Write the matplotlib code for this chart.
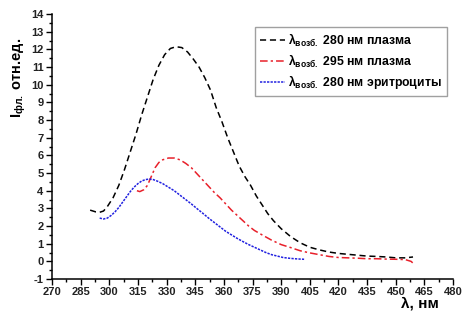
import matplotlib
matplotlib.use('Agg')
import matplotlib.pyplot as plt
from matplotlib.ticker import MultipleLocator

plt.rcParams['font.family'] = 'Liberation Sans'
plt.rcParams['font.weight'] = 'bold'
plt.rcParams['mathtext.fontset'] = 'custom'
plt.rcParams['mathtext.rm'] = 'Liberation Sans:bold'
plt.rcParams['mathtext.it'] = 'Liberation Sans:bold'
plt.rcParams['mathtext.bf'] = 'Liberation Sans:bold'
plt.rcParams['axes.unicode_minus'] = False

# возб. 280 нм плазма
wl_black = [290, 293, 295, 297, 299, 302, 305, 308, 311, 314, 317, 320, 323, 326,
            329, 332, 335, 338, 341, 344, 347, 350, 353, 356, 359, 362, 365, 368,
            371, 374, 377, 380, 383, 386, 390, 395, 400, 405, 410, 415, 420, 425,
            430, 435, 440, 445, 450, 455, 459]
i_black = [2.9, 2.8, 2.78, 2.85, 3.1, 3.6, 4.3, 5.2, 6.2, 7.2, 8.3, 9.3, 10.3, 11.1,
           11.7, 12.05, 12.15, 12.1, 11.85, 11.45, 11.0, 10.4, 9.7, 8.7, 7.9, 7.0,
           6.2, 5.4, 4.8, 4.3, 3.7, 3.2, 2.7, 2.3, 1.85, 1.4, 1.05, 0.8, 0.65, 0.53,
           0.45, 0.4, 0.35, 0.3, 0.28, 0.25, 0.2, 0.2, 0.25]

# возб. 295 нм плазма
wl_red = [314.5, 316, 318, 320, 322, 324, 326, 328, 331, 334, 337, 340, 343, 346,
          349, 352, 355, 358, 361, 364, 367, 370, 373, 376, 380, 385, 390, 395,
          400, 405, 410, 415, 420, 425, 430, 435, 440, 445, 450, 455, 458, 460]
i_red = [4.0, 3.95, 4.05, 4.3, 4.8, 5.3, 5.6, 5.75, 5.85, 5.85, 5.75, 5.55, 5.3,
         4.95, 4.6, 4.25, 3.9, 3.6, 3.25, 2.9, 2.6, 2.3, 2.0, 1.75, 1.5, 1.2, 0.95,
         0.78, 0.6, 0.48, 0.38, 0.28, 0.22, 0.2, 0.18, 0.15, 0.15, 0.13, 0.12, 0.1,
         0.0, -0.2]

# возб. 280 нм эритроциты
wl_blue = [295, 297, 299, 301, 303, 305, 307, 309, 311, 313, 315, 317, 319, 321,
           323, 325, 328, 331, 334, 337, 340, 343, 346, 349, 352, 355, 358, 361,
           364, 367, 370, 373, 376, 379, 382, 385, 388, 391, 394, 397, 400, 402]
i_blue = [2.45, 2.4, 2.45, 2.6, 2.8, 3.05, 3.35, 3.65, 3.95, 4.2, 4.4, 4.55, 4.63,
          4.66, 4.63, 4.55, 4.4, 4.2, 4.0, 3.75, 3.5, 3.25, 2.98, 2.72, 2.45, 2.2,
          1.95, 1.7, 1.5, 1.3, 1.12, 0.95, 0.8, 0.65, 0.5, 0.38, 0.3, 0.22, 0.18,
          0.15, 0.13, 0.12]

labels = [r'$\lambda_{\mathrm{возб.}}$ 280 нм плазма',
          r'$\lambda_{\mathrm{возб.}}$ 295 нм плазма',
          r'$\lambda_{\mathrm{возб.}}$ 280 нм эритроциты']

fig = plt.figure(figsize=(4.72, 3.26), dpi=100)
ax = fig.add_axes([0.110, 0.144, 0.850, 0.813])

ax.plot(wl_black, i_black, color='black', lw=1.1, ls=(0, (4, 2.5)), label=labels[0])
ax.plot(wl_red, i_red, color='#e8202a', lw=1.1, ls=(0, (5, 2, 1.5, 2)), label=labels[1])
ax.plot(wl_blue, i_blue, color='#2020e0', lw=1.1, ls=(0, (1.5, 0.8)), label=labels[2])

ax.set_xlim(270, 480)
ax.set_ylim(-1, 14)
ax.xaxis.set_major_locator(MultipleLocator(15))
ax.xaxis.set_minor_locator(MultipleLocator(7.5))
ax.yaxis.set_major_locator(MultipleLocator(1))
ax.yaxis.set_minor_locator(MultipleLocator(0.5))
ax.spines['top'].set_visible(False)
ax.spines['right'].set_visible(False)
ax.spines['left'].set_linewidth(1.1)
ax.spines['bottom'].set_linewidth(1.1)
ax.tick_params(which='major', length=4, width=1, labelsize=8, pad=2)
ax.tick_params(which='minor', length=2, width=1)
for lbl in ax.get_xticklabels() + ax.get_yticklabels():
    lbl.set_fontweight('bold')
    lbl.set_color('#222222')

ax.set_ylabel(r'I$_{\mathrm{фл.}}$ отн.ед.', fontsize=10.5, fontweight='bold', labelpad=2)
ax.yaxis.set_label_coords(-0.06, 0.76)
fig.text(0.93, 0.07, 'λ, нм', fontsize=11, fontweight='bold', ha='right', va='center')

leg = ax.legend(loc='upper right', bbox_to_anchor=(1.0, 0.975), fontsize=8.8,
                fancybox=False, edgecolor='#888888', handlelength=2.0,
                handletextpad=0.3, borderpad=0.4, labelspacing=0.3)
leg.get_frame().set_linewidth(1.0)

fig.savefig('out.png', dpi=100)
